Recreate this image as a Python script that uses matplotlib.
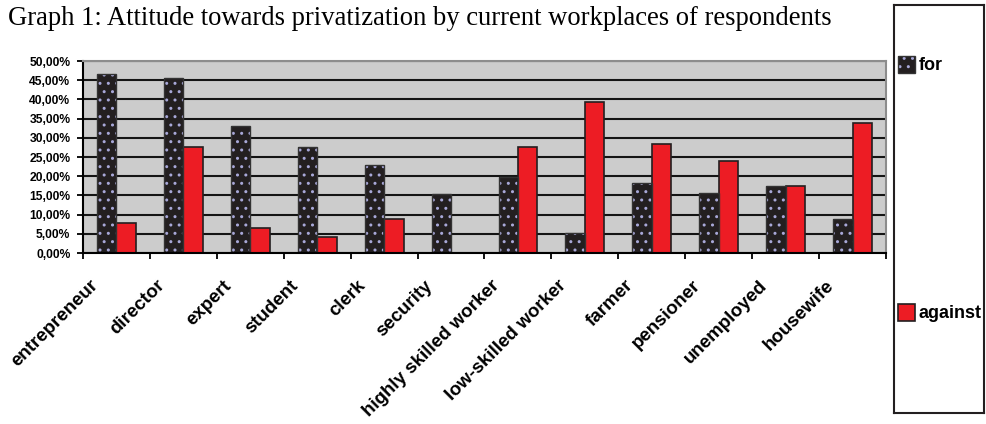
import matplotlib.pyplot as plt
import numpy as np
from matplotlib.patches import Rectangle
from matplotlib.transforms import ScaledTranslation
from matplotlib.ticker import FuncFormatter

# Dados: atitude em relação à privatização por local de trabalho
categorias = ["entrepreneur", "director", "expert", "student", "clerk",
              "security", "highly skilled worker", "low-skilled worker",
              "farmer", "pensioner", "unemployed", "housewife"]
a_favor = [46.5, 45.6, 33.1, 27.6, 23.0, 15.3, 19.8, 5.1, 18.1, 15.7, 17.4, 8.8]
contra = [7.8, 27.6, 6.5, 4.2, 8.8, 0.0, 27.5, 39.4, 28.5, 23.9, 17.4, 33.9]
series = ["for", "against"]

cor_escura = "#231f20"
cor_pontos = "#a8a8d8"
cor_vermelha = "#ed1c24"
fonte = "Liberation Sans"

fig = plt.figure(figsize=(9.87, 4.24), dpi=100)
ax = fig.add_axes([83/987, 1 - 253/424, 803/987, 192/424])
ax.set_facecolor("#cccccc")

x = np.arange(len(categorias))
w = 0.29

# Barras "for" com padrão pontilhado
ax.bar(x - w/2, a_favor, w, color=cor_escura, edgecolor=cor_pontos,
       hatch="..", linewidth=0, zorder=2)
ax.bar(x - w/2, a_favor, w, fill=False, edgecolor="#333333",
       linewidth=1.0, zorder=2.1)
# Barras "against"
ax.bar(x + w/2, contra, w, color=cor_vermelha, edgecolor="#231f20",
       linewidth=1.2, zorder=2)

ax.set_xlim(-0.5, len(categorias) - 0.5)
ax.set_ylim(0, 50)
ax.set_yticks(np.arange(0, 51, 5))
ax.yaxis.set_major_formatter(FuncFormatter(lambda v, p: f"{v:.2f}%".replace(".", ",")))
ax.yaxis.grid(True, color="#141414", linewidth=1.5)
ax.set_axisbelow(True)

# Marcas do eixo x entre categorias
ax.set_xticks(np.arange(-0.5, len(categorias), 1))
ax.set_xticklabels([])
ax.tick_params(axis="x", direction="out", length=4, width=1.3, color="black")
ax.tick_params(axis="y", direction="out", length=4, width=1.3, color="black",
               pad=5, labelsize=8.7)
for lbl in ax.get_yticklabels():
    lbl.set_fontweight("bold")
    lbl.set_family(fonte)

for lado in ["left", "bottom"]:
    ax.spines[lado].set_color("black")
    ax.spines[lado].set_linewidth(1.5)
for lado in ["top", "right"]:
    ax.spines[lado].set_color("#8c8c8c")
    ax.spines[lado].set_linewidth(1.5)

# Rótulos das categorias inclinados
desloc = ScaledTranslation(-27/100, -24/100, fig.dpi_scale_trans)
for i, nome in enumerate(categorias):
    ax.text(i, 0, nome, transform=ax.get_xaxis_transform() + desloc,
            rotation=45, ha="right", va="top", rotation_mode="anchor",
            fontsize=13.5, fontweight="bold", family=fonte)

fig.text(8/987, 1 - 25/424,
         "Graph 1: Attitude towards privatization by current workplaces of respondents",
         fontsize=19.2, family="Liberation Serif", va="baseline", ha="left")

# Legenda em caixa separada
lax = fig.add_axes([894/987, 1 - 413/424, 90/987, 408/424])
lax.set_xlim(0, 90)
lax.set_ylim(408, 0)
lax.set_xticks([])
lax.set_yticks([])
for s in lax.spines.values():
    s.set_linewidth(1.5)
    s.set_color("#231f20")
lax.add_patch(Rectangle((4, 51), 17, 17, facecolor=cor_escura,
                        edgecolor=cor_pontos, hatch="..", linewidth=0))
lax.add_patch(Rectangle((4, 51), 17, 17, fill=False, edgecolor="#333333",
                        linewidth=1.0))
lax.add_patch(Rectangle((4, 299), 17, 17, facecolor=cor_vermelha,
                        edgecolor="#231f20", linewidth=1.2))
lax.text(25, 60, series[0], fontsize=13, fontweight="bold", family=fonte,
         va="center", ha="left")
lax.text(25, 308, series[1], fontsize=13, fontweight="bold", family=fonte,
         va="center", ha="left")

fig.savefig("out.png", dpi=100)
